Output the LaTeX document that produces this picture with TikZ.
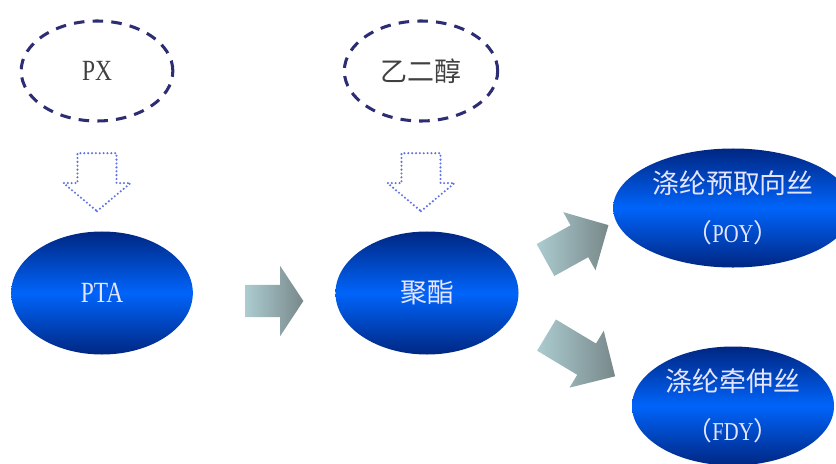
\documentclass[tikz,border=0pt]{standalone}
\usepackage{fontspec}
\newfontfamily\cjk{Noto Sans CJK SC}
\newfontfamily\schmal[FakeStretch=0.8]{Liberation Serif}
\usetikzlibrary{shapes.geometric,shapes.arrows,positioning}
\definecolor{randblau}{RGB}{45,45,115}
\definecolor{punktblau}{RGB}{95,115,230}
\definecolor{tiefblau}{RGB}{0,38,130}
\definecolor{hellblau}{RGB}{0,100,250}
\definecolor{pfeilhell}{RGB}{172,204,208}
\definecolor{pfeildunkel}{RGB}{120,136,138}
\begin{document}
\begin{tikzpicture}[
	x=0.03cm,
	y=0.03cm,
	rohstoff/.style={
		ellipse,
		draw=randblau,
		line width=2.6pt,
		dash pattern=on 9pt off 7pt,
		minimum width=4.55cm,
		minimum height=3cm,
		text=black!75,
		font=\schmal\fontsize{25}{30}\selectfont
	},
	produkt/.style={
		ellipse,
		top color=tiefblau,
		bottom color=tiefblau,
		middle color=hellblau,
		minimum width=5.45cm,
		minimum height=3.69cm,
		text=white!90!blue,
		align=center,
		font=\schmal\fontsize{25}{42}\selectfont
	},
	zufuhr/.style={
		single arrow,
		draw=punktblau,
		line width=2pt,
		line cap=round,
		dash pattern=on 0pt off 3.3pt,
		minimum height=1.74cm,
		inner xsep=0pt,
		inner ysep=0.55cm,
		single arrow head extend=0.42cm,
		single arrow tip angle=100,
		rotate=-90
	},
	pfeil/.style={
		single arrow,
		left color=pfeilhell,
		right color=pfeildunkel,
		minimum height=1.74cm,
		inner xsep=0pt,
		inner ysep=0.54cm,
		single arrow head extend=0.45cm
	}
]
\useasboundingbox (0,0) rectangle (836,463);

% Rohstoffe
\node[rohstoff] (PX) at (97,392) {PX};
\node[rohstoff, minimum width=4.6cm] (EG) at (421,392) {\cjk\fontsize{23}{30}\selectfont 乙二醇};

\node[zufuhr] (ZU1) at (97,289) {};
\node[zufuhr] (ZU2) at (421,289) {};

% Zwischenprodukte
\node[produkt] (PTA) at (102,170) {PTA};
\node[produkt, minimum width=5.49cm] (POLY) at (427,170) {\cjk\fontsize{23}{30}\selectfont 聚酯};

\node[pfeil, single arrow tip angle=113, inner ysep=0.48cm,
	single arrow head extend=0.57cm] (P1) at (269,162) {};

% Endprodukte
\node[produkt, minimum width=6.06cm, minimum height=3.57cm] (POY) at (733,255)
{\cjk\fontsize{23}{42}\selectfont 涤纶预取向丝\\\cjk\fontsize{22}{42}\selectfont（\schmal POY\cjk）};
\node[produkt, minimum width=6.06cm, minimum height=3.57cm] (FDY) at (733,57)
{\cjk\fontsize{23}{42}\selectfont 涤纶牵伸丝\\\cjk\fontsize{22}{42}\selectfont（\schmal FDY\cjk）};

\node[pfeil, rotate=29, minimum height=2.16cm] (P2) at (569,216) {};
\node[pfeil, rotate=-31, minimum height=2.4cm] (P3) at (573,112) {};

\end{tikzpicture}
\end{document}
